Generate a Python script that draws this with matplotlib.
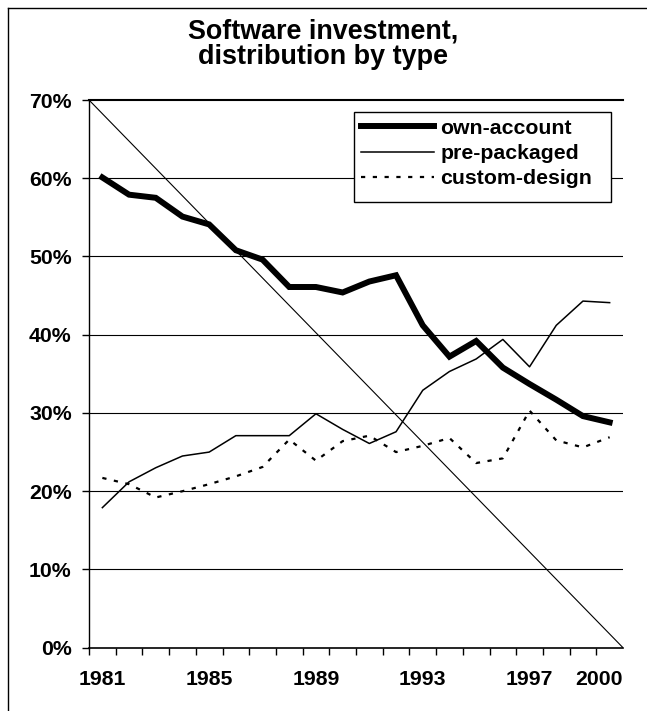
import matplotlib
matplotlib.use("Agg")
import matplotlib.pyplot as plt
from matplotlib.lines import Line2D
from matplotlib.patches import Rectangle
from matplotlib.ticker import FixedLocator, FuncFormatter

years = list(range(1981, 2001))
own_account = [60.1, 57.9, 57.5, 55.1, 54.1, 50.8, 49.6, 46.1, 46.1, 45.4,
               46.8, 47.6, 41.2, 37.2, 39.2, 35.8, 33.7, 31.7, 29.6, 28.8]
pre_packaged = [17.9, 21.2, 23.0, 24.5, 25.0, 27.1, 27.1, 27.1, 29.9, 27.9,
                26.1, 27.6, 32.9, 35.3, 36.9, 39.4, 35.9, 41.2, 44.3, 44.1]
custom_design = [21.7, 20.9, 19.2, 20.0, 20.9, 21.9, 23.1, 26.6, 23.9, 26.4,
                 27.1, 25.0, 25.8, 26.8, 23.6, 24.2, 30.3, 26.5, 25.6, 26.9]
series_names = ["own-account", "pre-packaged", "custom-design"]
label_years = [1981, 1985, 1989, 1993, 1997, 2000]
y_ticks = [0, 10, 20, 30, 40, 50, 60, 70]
title = "Software investment,\ndistribution by type"

plt.rcParams['font.family'] = ['Liberation Sans', 'DejaVu Sans']
plt.rcParams['font.weight'] = 'bold'

W, H = 647, 711
fig = plt.figure(figsize=(W / 100, H / 100), dpi=100)
fig.patch.set_facecolor('white')

# outer chart-area border: only left and top edges are inside the image
fig.lines.append(Line2D([7.5 / W, 7.5 / W], [0, 1 - 7.5 / H], transform=fig.transFigure,
                        color='black', linewidth=1.0))
fig.lines.append(Line2D([7.5 / W, 1.02], [1 - 7.5 / H, 1 - 7.5 / H], transform=fig.transFigure,
                        color='black', linewidth=1.0))

ax = fig.add_axes([89 / W, 1 - 647.7 / H, (623 - 89) / W, (647.7 - 100) / H])
ax.set_xlim(years[0] - 0.5, years[-1] + 0.5)
ax.set_ylim(0, 70)

# gridlines
for v in y_ticks[1:-1]:
    ax.axhline(v, color='black', linewidth=0.8, zorder=1)

# diagonal line from corner to corner
ax.plot([0, 1], [1, 0], transform=ax.transAxes, color='black', linewidth=0.8, zorder=2)

ax.plot(years, own_account, color='black', linewidth=4.3, solid_joinstyle='miter',
        label=series_names[0], zorder=4)
ax.plot(years, pre_packaged, color='black', linewidth=1.1, label=series_names[1], zorder=3)
ax.plot(years, custom_design, color='black', linewidth=1.6, dashes=(1.9, 3.4),
        label=series_names[2], zorder=3)

ax.spines['right'].set_visible(False)
ax.spines['top'].set_linewidth(1.5)
ax.spines['left'].set_linewidth(1.0)
ax.spines['bottom'].set_linewidth(1.2)

# y axis
ax.set_yticks(y_ticks)
ax.yaxis.set_major_formatter(FuncFormatter(lambda v, p: f"{int(v)}%"))
ax.tick_params(axis='y', direction='out', length=5, width=1, pad=7.5, labelsize=15.3)

# x axis: tick marks at category boundaries, labels at selected years
ax.xaxis.set_minor_locator(FixedLocator([y - 0.5 for y in years] + [years[-1] + 0.5]))
ax.tick_params(axis='x', which='minor', direction='out', length=5, width=1)
ax.set_xticks(label_years[:-1] + [years[-1] + 0.5])
ax.set_xticklabels([str(y) for y in label_years])
ax.tick_params(axis='x', which='major', length=0, pad=16, labelsize=15.3)
ax.get_xticklabels()[-1].set_horizontalalignment('right')
for lbl in ax.get_xticklabels() + ax.get_yticklabels():
    lbl.set_fontweight('bold')

# legend frame (Excel-style, with extra right padding) + legend content
fx0, fy0 = (354 - 89) / 534, (647.7 - 202) / 547.7
fw, fh = (610.7 - 354) / 534, 90 / 547.7
ax.add_patch(Rectangle((fx0, fy0), fw, fh, transform=ax.transAxes, facecolor='white',
                       edgecolor='black', linewidth=1.0, zorder=9))
leg = ax.legend(loc='upper left', bbox_to_anchor=(fx0, fy0 + fh), borderaxespad=0,
                frameon=False, prop={'size': 15.3, 'weight': 'bold'},
                handlelength=3.43, handletextpad=0.31, labelspacing=0.3,
                borderpad=0.315)
leg.set_zorder(10)

fig.text(0.5, 1 - 44 / H, title, ha='center', va='center', fontsize=19.4,
         fontweight='bold', linespacing=0.98)

fig.savefig("out.png", dpi=100)
